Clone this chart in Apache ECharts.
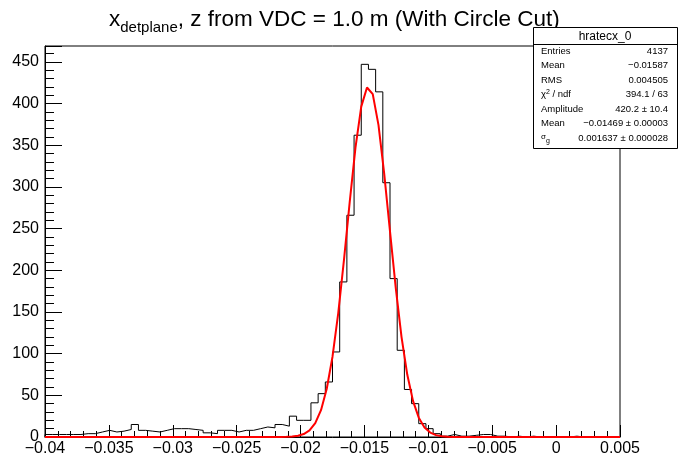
<!DOCTYPE html>
<html>
<head>
<meta charset="utf-8">
<script src="https://cdn.jsdelivr.net/npm/echarts@6/dist/echarts.min.js"></script>
<style>
  html, body { margin: 0; padding: 0; background: #ffffff; }
  #chart { width: 679px; height: 459px; }
</style>
</head>
<body>
<div id="chart"></div>
<script>
// Histogram binning: 80 bins between X_MIN and X_MAX
const X_MIN = -0.04;
const X_MAX = 0.005;
const N_BINS = 80;
const Y_MAX = 469;

// Bin contents of hratecx_0 (x at the detector plane)
const counts = [
  3, 3, 3, 3, 3, 4, 4, 6, 8, 6,
  7, 9, 15, 8, 7, 6, 8, 10, 10, 10,
  9, 8, 5, 4, 8, 8, 6, 8, 8, 10,
  12, 11, 15, 13, 25, 20, 20, 41, 52, 66,
  102, 186, 266, 362, 447, 441, 414, 305, 190, 104,
  57, 40, 16, 10, 4, 1, 3, 1, 1, 2,
  3, 3, 1, 1, 0, 1, 0, 1, 0, 0,
  0, 0, 0, 1, 0, 0, 0, 0, 0, 0
];

// Gaussian fit parameters
const fitAmplitude = 420.2;
const fitMean = -0.01469;
const fitSigma = 0.001637;
const fitPoints = 100;

// Axis tick labels
const xTickLabels = ['\u22120.04', '\u22120.035', '\u22120.03', '\u22120.025', '\u22120.02',
                     '\u22120.015', '\u22120.01', '\u22120.005', '0', '0.005'];
const yTickLabels = ['0', '50', '100', '150', '200', '250', '300', '350', '400', '450'];

// Statistics box rows
const statsTitle = 'hratecx_0';
const statsNames = ['{n|Entries}', '{n|Mean}', '{n|RMS}', '{n|\u03C7}{sup|2}{n| / ndf}',
                    '{n|Amplitude}', '{n|Mean}', '{sig|\u03C3}{sub|g}'];
const statsValues = ['4137', '\u22120.01587', '0.004505', '394.1 / 63',
                     '420.2 \u00B1 10.4', '\u22120.01469 \u00B1 0.00003', '0.001637 \u00B1 0.000028'];

const FONT = '"Liberation Sans", Arial, Helvetica, sans-serif';
const binWidth = (X_MAX - X_MIN) / N_BINS;

// Outline of the histogram: one point per bin low edge, closed to the baseline
const histLine = [[X_MIN, 0]];
counts.forEach((c, i) => histLine.push([X_MIN + i * binWidth, c]));
histLine.push([X_MAX, counts[counts.length - 1]]);
histLine.push([X_MAX, 0]);

// Fitted gaussian evaluated across the axis range
const fitLine = [];
for (let i = 0; i <= fitPoints; i++) {
  const x = X_MIN + (X_MAX - X_MIN) * i / fitPoints;
  const t = (x - fitMean) / fitSigma;
  fitLine.push([x, fitAmplitude * Math.exp(-0.5 * t * t)]);
}

const grid = { left: 45, right: 59, top: 46, bottom: 22 };

const statsGraphics = [];
const boxL = 533.5, boxT = 27.5, boxW = 144, boxH = 121;
statsGraphics.push({
  type: 'rect', z: 100,
  shape: { x: boxL, y: boxT, width: boxW, height: boxH },
  style: { fill: '#ffffff', stroke: '#000000', lineWidth: 1 }
});
statsGraphics.push({
  type: 'line', z: 101,
  shape: { x1: boxL, y1: 44.5, x2: boxL + boxW, y2: 44.5 },
  style: { stroke: '#000000', lineWidth: 1 }
});
statsGraphics.push({
  type: 'text', z: 101, x: 605, y: 36.5,
  style: { text: statsTitle, font: '12px ' + FONT, fill: '#000', align: 'center', verticalAlign: 'middle' }
});
statsNames.forEach((name, i) => {
  const y = 51 + i * 14.55;
  statsGraphics.push({
    type: 'text', z: 101, x: 541, y: y,
    style: {
      text: name, align: 'left', verticalAlign: 'middle',
      rich: {
        n: { fontSize: 9.5, fontFamily: FONT, fill: '#000', lineHeight: 12 },
        sup: { fontSize: 7, fontFamily: FONT, fill: '#000', lineHeight: 12, verticalAlign: 'top' },
        sig: { fontSize: 8, fontFamily: FONT, fill: '#000', lineHeight: 12, verticalAlign: 'top' },
        sub: { fontSize: 7, fontFamily: FONT, fill: '#000', lineHeight: 8, verticalAlign: 'bottom' }
      }
    }
  });
  statsGraphics.push({
    type: 'text', z: 101, x: 668, y: y,
    style: { text: statsValues[i], font: '9.5px ' + FONT, fill: '#000', align: 'right', verticalAlign: 'middle' }
  });
});

const chart = echarts.init(document.getElementById('chart'), null, { renderer: 'canvas' });
chart.setOption({
  animation: false,
  backgroundColor: '#ffffff',
  title: {
    text: '{x|x}{sub|detplane}{t|, z from VDC = 1.0 m (With Circle Cut)}',
    left: 104, top: 0,
    textStyle: {
      fontWeight: 'normal',
      rich: {
        x: { fontSize: 22.5, fontFamily: FONT, fontWeight: 'normal', color: '#000', lineHeight: 30 },
        t: { fontSize: 22.5, fontFamily: FONT, fontWeight: 'normal', color: '#000', lineHeight: 30 },
        sub: { fontSize: 15, fontFamily: FONT, fontWeight: 'normal', color: '#000', lineHeight: 16, verticalAlign: 'bottom' }
      }
    }
  },
  grid: Object.assign({ show: true, borderColor: '#000', borderWidth: 1, backgroundColor: 'transparent' }, grid),
  xAxis: [
    {
      type: 'value', min: X_MIN, max: X_MAX, interval: 0.005,
      axisLine: { show: true, onZero: false, lineStyle: { color: '#000', width: 1 } },
      axisTick: { show: true, inside: true, length: 12, lineStyle: { color: '#000', width: 1 } },
      splitLine: { show: false },
      axisLabel: {
        color: '#000', fontSize: 16, fontFamily: FONT, margin: 4,
        formatter: v => {
          const k = Math.round((v - X_MIN) / 0.005);
          return Math.abs(X_MIN + k * 0.005 - v) < 1e-9 ? (xTickLabels[k] || '') : '';
        }
      }
    },
    {
      // secondary ticks every 0.001
      type: 'value', min: X_MIN, max: X_MAX, interval: 0.001, position: 'bottom',
      axisLine: { show: false, onZero: false },
      axisTick: { show: true, inside: true, length: 6, lineStyle: { color: '#000', width: 1 } },
      axisLabel: { show: false },
      splitLine: { show: false }
    }
  ],
  yAxis: [
    {
      type: 'value', min: 0, max: Y_MAX, interval: 50,
      axisLine: { show: true, onZero: false, lineStyle: { color: '#000', width: 1 } },
      axisTick: { show: true, inside: true, length: 17, lineStyle: { color: '#000', width: 1 } },
      splitLine: { show: false },
      axisLabel: {
        color: '#000', fontSize: 16, fontFamily: FONT, margin: 6,
        formatter: v => {
          const k = Math.round(v / 50);
          return Math.abs(k * 50 - v) < 1e-9 ? (yTickLabels[k] || '') : '';
        }
      }
    },
    {
      // secondary ticks every 10 counts
      type: 'value', min: 0, max: Y_MAX, interval: 10, position: 'left',
      axisLine: { show: false, onZero: false },
      axisTick: { show: true, inside: true, length: 9, lineStyle: { color: '#000', width: 1 } },
      axisLabel: { show: false },
      splitLine: { show: false }
    }
  ],
  series: [
    {
      name: 'hratecx_0', type: 'line', step: 'end', data: histLine,
      xAxisIndex: 0, yAxisIndex: 0,
      showSymbol: false, symbol: 'none',
      lineStyle: { color: '#000000', width: 1 },
      z: 2, silent: true
    },
    {
      name: 'gaus', type: 'line', data: fitLine,
      xAxisIndex: 0, yAxisIndex: 0,
      showSymbol: false, symbol: 'none', smooth: false,
      lineStyle: { color: '#ff0000', width: 2 },
      z: 3, silent: true
    }
  ],
  graphic: statsGraphics
});
</script>
</body>
</html>
